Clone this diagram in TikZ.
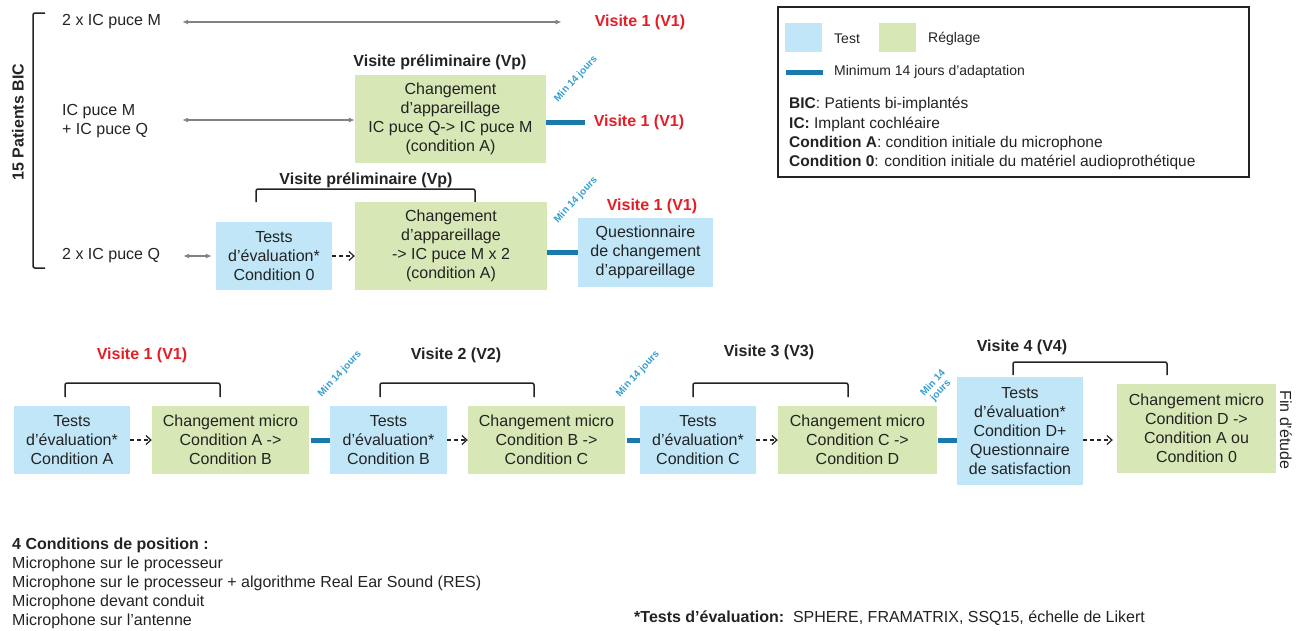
\documentclass[tikz,border=0pt]{standalone}
\usepackage{fontspec}
\setmainfont{Liberation Sans}
\usetikzlibrary{arrows.meta}
\definecolor{tblue}{RGB}{192,230,248}
\definecolor{rgreen}{RGB}{216,231,182}
\definecolor{minblue}{RGB}{26,122,172}
\definecolor{minlabel}{RGB}{52,158,208}
\definecolor{vred}{RGB}{228,30,38}
\definecolor{arrgray}{RGB}{130,130,130}
\definecolor{txt}{RGB}{35,35,35}
\begin{document}
\begin{tikzpicture}[x=1pt,y=-1pt,
  lab/.style={font=\fontsize{16}{19}\selectfont, text=txt, inner sep=2pt},
  legs/.style={font=\fontsize{14}{17}\selectfont, text=txt, inner sep=0pt, anchor=west},
  legl/.style={font=\fontsize{15.5}{19.3}\selectfont, text=txt, inner sep=0pt, anchor=west, align=left},
  vis/.style={font=\fontsize{16}{19}\selectfont\bfseries, text=txt, inner sep=2pt},
  visr/.style={vis, text=vred},
  boxt/.style={fill=tblue, inner sep=0pt, align=center, font=\fontsize{16}{19}\selectfont, text=txt},
  boxr/.style={fill=rgreen, inner sep=0pt, align=center, font=\fontsize{16}{19}\selectfont, text=txt},
  minline/.style={draw=minblue, line width=5pt},
  minlab/.style={text=minlabel, font=\fontsize{10}{10.5}\selectfont\bfseries, rotate=47, inner sep=0pt, align=center},
  garrow/.style={draw=arrgray, line width=1.2pt, {Latex[length=6pt,width=5pt]}-{Latex[length=6pt,width=5pt]}},
  darrow/.style={draw=txt, line width=1.2pt, dash pattern=on 4pt off 3pt, -{Straight Barb[length=5pt,width=9pt]}},
  bracket/.style={draw=txt, line width=1.5pt, rounded corners=2pt}]
\useasboundingbox (0,0) rectangle (1306,630);

% ---------- top section ----------
\node[font=\fontsize{16}{19}\selectfont\bfseries, text=txt, rotate=90] (pat) at (18,122) {15 Patients BIC};
\draw[bracket] (45,13) -- (33,13) -- (33,268) -- (45,268);

\node[lab, anchor=west] (icm) at (60,22) {2 x IC puce M};
\node[visr] (v1a) at (640,22) {Visite 1 (V1)};
\draw[garrow] ([xshift=19]icm.east) -- ([xshift=-31]v1a.west);

\node[vis] (vp1) at (440,62) {Visite préliminaire (Vp)};
\node[boxr, minimum width=191pt, minimum height=88pt] (G1) at (450.5,119)
  {Changement\\d'appareillage\\IC puce Q-> IC puce M\\(condition A)};
\node[lab, anchor=west, align=left] (icmq) at (60,121) {IC puce M\\+ IC puce Q};
\draw[garrow] ([xshift=32,yshift=1]icmq.east) -- ([yshift=1]icmq.east -| G1.west);
\node[visr] (v1b) at (639,122) {Visite 1 (V1)};
\draw[minline] (G1.east |- v1b.west) -- ([xshift=-7]v1b.west);
\node[minlab] (mj1) at (576,79) {Min 14 jours};

\node[vis] (vp2) at (366,180) {Visite préliminaire (Vp)};
\draw[bracket] (256,202) -- (256,189) -- (475,189) -- (475,202);
\node[boxt, minimum width=116pt, minimum height=68pt] (B1) at (274,256)
  {Tests\\d'évaluation*\\Condition 0};
\node[boxr, minimum width=192pt, minimum height=88pt] (G2) at (451,246)
  {Changement\\d'appareillage\\-> IC puce M x 2\\(condition A)};
\node[boxt, minimum width=135pt, minimum height=69pt] (B2) at (645.5,252.5)
  {Questionnaire\\de changement\\d'appareillage};
\node[lab, anchor=west] (icq) at (60,256) {2 x IC puce Q};
\draw[garrow] ([xshift=21]icq.east) -- ([xshift=-4]B1.west);
\draw[darrow] (B1.east) -- (B1.east -| G2.west);
\draw[minline] (B2.west -| G2.east) -- (B2.west);
\node[visr] (v1c) at (652,206) {Visite 1 (V1)};
\node[minlab] (mj2) at (576,200) {Min 14 jours};

% ---------- legend ----------
\draw[line width=1.5pt, draw=txt] (778,7) rectangle (1249,177);
\fill[tblue] (785,23) rectangle (822,52);
\node[legs] (lt) at (834,39) {Test};
\fill[rgreen] (879,23) rectangle (916,52);
\node[legs] (lr) at (928,39) {Réglage};
\draw[minline] (786,72) -- (823,72);
\node[legs] (lm) at (834,72) {Minimum 14 jours d'adaptation};
\node[legl] (l1) at (789,104) {\textbf{BIC}: Patients bi-implantés};
\node[legl] (l2) at (789,124) {\textbf{IC:} Implant cochléaire};
\node[legl] (l3) at (789,143) {\textbf{Condition A}: condition initiale du microphone};
\node[legl] (l4) at (789,162) {\textbf{Condition 0}: condition initiale du matériel audioprothétique};

% ---------- bottom row ----------
\node[boxt, minimum width=116pt, minimum height=68pt] (b1) at (72,440) {Tests\\d'évaluation*\\Condition A};
\node[boxr, minimum width=157pt, minimum height=68pt] (g1) at (230.5,440) {Changement micro\\Condition A ->\\Condition B};
\node[boxt, minimum width=117pt, minimum height=68pt] (b2) at (388.5,440) {Tests\\d'évaluation*\\Condition B};
\node[boxr, minimum width=157pt, minimum height=68pt] (g2) at (546.5,440) {Changement micro\\Condition B ->\\Condition C};
\node[boxt, minimum width=116pt, minimum height=68pt] (b3) at (698,440) {Tests\\d'évaluation*\\Condition C};
\node[boxr, minimum width=159pt, minimum height=68pt] (g3) at (857.5,440) {Changement micro\\Condition C ->\\Condition D};
\node[boxt, minimum width=126pt, minimum height=108pt] (b4) at (1020,431) {Tests\\d'évaluation*\\Condition D+\\Questionnaire\\de satisfaction};
\node[boxr, minimum width=159pt, minimum height=89pt] (g5) at (1196.5,428.5) {Changement micro\\Condition D ->\\Condition A ou\\Condition 0};
\node[lab, rotate=-90] (fin) at (1286,430) {Fin d'étude};

\draw[darrow] (b1.east) -- (g1.west);
\draw[minline, shorten <=2pt] (g1.east) -- (b2.west);
\draw[darrow] (b2.east) -- (g2.west);
\draw[minline, shorten <=2pt] (g2.east) -- (b3.west);
\draw[darrow] (b3.east) -- (g3.west);
\draw[minline, shorten <=1pt] (g3.east) -- (g3.east -| b4.west);
\draw[darrow, shorten >=4pt] (g3.east -| b4.east) -- (g3.east -| g5.west);

\node[visr] (v1d) at (142,355) {Visite 1 (V1)};
\draw[bracket] (65,397) -- (65,383) -- (220,383) -- (220,397);
\node[vis] (v2) at (456,355) {Visite 2 (V2)};
\draw[bracket] (380,397) -- (380,383) -- (534,383) -- (534,397);
\node[vis] (v3) at (769,352) {Visite 3 (V3)};
\draw[bracket] (693,397) -- (693,383) -- (848,383) -- (848,397);
\node[vis] (v4) at (1022,347) {Visite 4 (V4)};
\draw[bracket] (1013,375) -- (1013,362) -- (1167,362) -- (1167,375);

\node[minlab] (mj3) at (340,374) {Min 14 jours};
\node[minlab] (mj4) at (638,374) {Min 14 jours};
\node[minlab] (mj5) at (937,387) {Min 14\\jours};

% ---------- bottom texts ----------
\node[lab, anchor=west, align=left] (conds) at (10,583)
  {\textbf{4 Conditions de position :}\\Microphone sur le processeur\\Microphone sur le processeur + algorithme Real Ear Sound (RES)\\Microphone devant conduit\\Microphone sur l'antenne};
\node[lab, anchor=west] (foot) at (632,618)
  {\textbf{*Tests d'évaluation:}\ \ SPHERE, FRAMATRIX, SSQ15, échelle de Likert};
\end{tikzpicture}
\end{document}
